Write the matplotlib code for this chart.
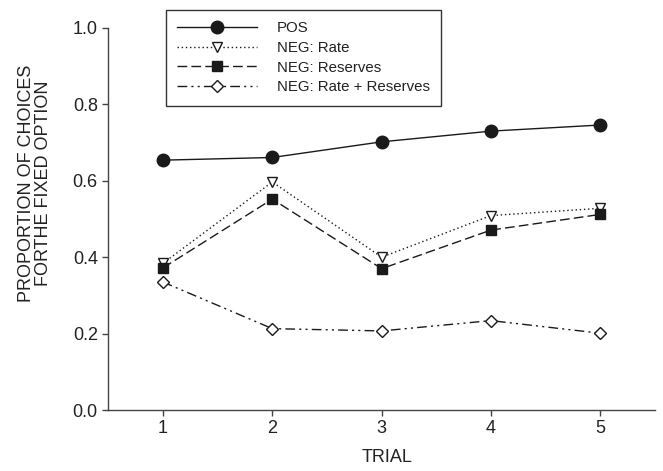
import matplotlib
matplotlib.use('Agg')
import matplotlib.pyplot as plt

plt.rcParams['font.family'] = ['Liberation Sans', 'DejaVu Sans']

# proportion of choices for the fixed option, per trial
trials = [1, 2, 3, 4, 5]
pos = [0.654, 0.661, 0.702, 0.730, 0.746]
neg_rate = [0.384, 0.597, 0.400, 0.509, 0.528]
neg_reserves = [0.372, 0.552, 0.370, 0.471, 0.512]
neg_rate_reserves = [0.335, 0.213, 0.207, 0.234, 0.201]

series_labels = ['POS', 'NEG: Rate', 'NEG: Reserves', 'NEG: Rate + Reserves']

fig = plt.figure(figsize=(6.63, 4.71), dpi=100)
ax = fig.add_axes([0.1633, 0.1295, 0.8247, 0.8111])

ink = '#1a1a1a'

ax.plot(trials, pos, color=ink, lw=1.0, linestyle='-',
        marker='o', markersize=9, markerfacecolor=ink, markeredgecolor=ink,
        label=series_labels[0])
ax.plot(trials, neg_rate, color=ink, lw=1.0, linestyle=(0, (1, 2)),
        marker='v', markersize=7.5, markerfacecolor='white', markeredgecolor=ink,
        markeredgewidth=1.0, label=series_labels[1])
ax.plot(trials, neg_reserves, color=ink, lw=1.0, linestyle=(0, (7, 3)),
        marker='s', markersize=7, markerfacecolor=ink, markeredgecolor=ink,
        label=series_labels[2])
ax.plot(trials, neg_rate_reserves, color=ink, lw=1.0,
        linestyle=(0, (7, 3, 1.5, 3, 1.5, 3)),
        marker='D', markersize=6.3, markerfacecolor='white', markeredgecolor=ink,
        markeredgewidth=1.0, label=series_labels[3])

ax.set_xlim(0.5, 5.5)
ax.set_ylim(0.0, 1.0)
ax.set_xticks(trials)
ax.set_yticks([0.0, 0.2, 0.4, 0.6, 0.8, 1.0])
ax.set_yticklabels(['0.0', '0.2', '0.4', '0.6', '0.8', '1.0'])

for side in ['top', 'right']:
    ax.spines[side].set_visible(False)
for side in ['left', 'bottom']:
    ax.spines[side].set_color('#444444')
    ax.spines[side].set_linewidth(1.0)

ax.tick_params(direction='out', length=4, width=1.0, color='#444444',
               labelsize=13, labelcolor='#222222', pad=3.5)

ax.set_xlabel('TRIAL', fontsize=13, color='#222222')
ax.xaxis.set_label_coords(0.51, -0.102)
ax.set_ylabel('PROPORTION OF CHOICES\nFORTHE FIXED OPTION', fontsize=13,
              color='#222222', linespacing=1.05)
ax.yaxis.set_label_coords(-0.102, 0.594)

leg = ax.legend(loc='upper left', bbox_to_anchor=(0.1055, 1.047),
                borderaxespad=0, fontsize=10.8, handlelength=5.3,
                handletextpad=1.35, borderpad=0.75, labelspacing=0.38,
                fancybox=False, frameon=True, framealpha=1)
leg.get_frame().set_edgecolor('#333333')
leg.get_frame().set_linewidth(1.0)
for t in leg.get_texts():
    t.set_color('#222222')

fig.savefig('out.png', dpi=100)
